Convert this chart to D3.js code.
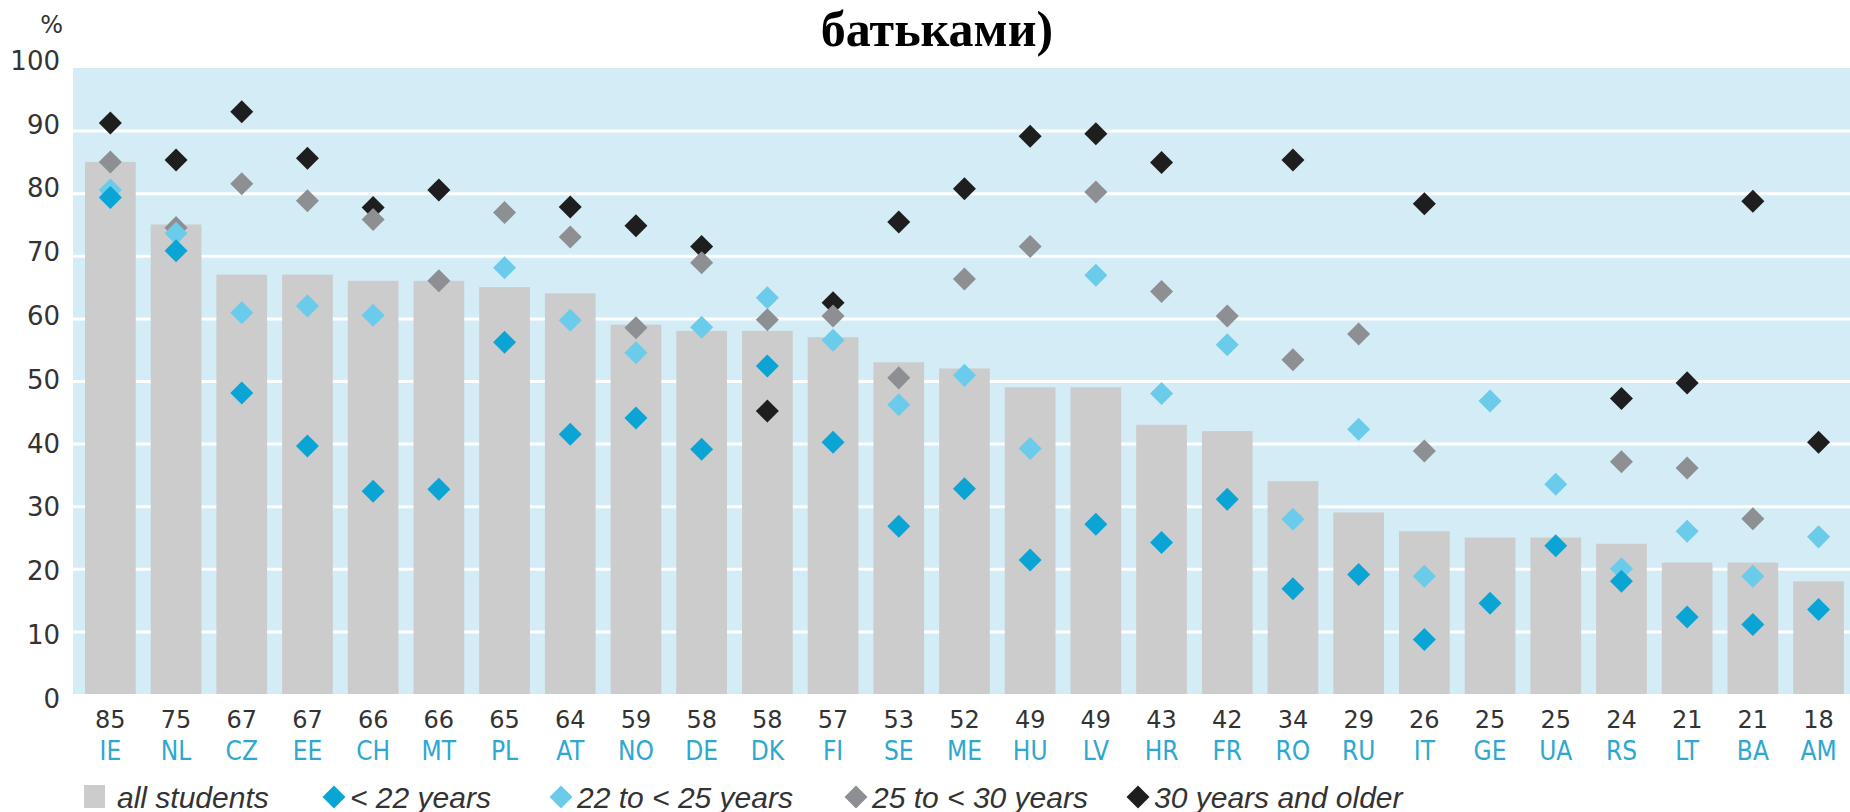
<!DOCTYPE html>
<html>
<head>
<meta charset="utf-8">
<script src="https://cdn.jsdelivr.net/npm/d3@7"></script>
<style>
  body { margin: 0; background: #ffffff; }
  .y-axis text { font-family: "DejaVu Sans", sans-serif; font-size: 26px; fill: #333333; }
  .num-axis text { font-family: "DejaVu Sans", sans-serif; font-size: 24px; fill: #333333; }
  .code-axis text { font-family: "DejaVu Sans Condensed", "DejaVu Sans", sans-serif; font-stretch: condensed; font-size: 26px; fill: #2ea8cf; }
  .legend text { font-family: "Liberation Sans", Arial, sans-serif; font-style: italic; font-size: 30px; fill: #333333; }
</style>
</head>
<body>
<div id="chart"></div>
<script>
// chart values
var countries = ["IE","NL","CZ","EE","CH","MT","PL","AT","NO","DE","DK","FI","SE","ME",
                 "HU","LV","HR","FR","RO","RU","IT","GE","UA","RS","LT","BA","AM"];
var allStudents = [85,75,67,67,66,66,65,64,59,58,58,57,53,52,49,49,43,42,34,29,26,25,25,24,21,21,18];
var under22 = [79.3,70.8,48.1,39.6,32.4,32.7,56.2,41.5,44.1,39.1,52.4,40.2,26.8,32.8,
               21.4,27.1,24.2,31.1,16.8,19.1,8.7,14.5,23.7,18.0,12.3,11.1,13.5];
var age22to25 = [80.5,73.6,60.9,62.0,60.5,null,68.1,59.7,54.5,58.6,63.3,56.5,46.2,50.9,
                 39.2,66.9,48.0,55.8,27.9,42.3,18.8,46.8,33.5,20.0,26.0,18.8,25.1];
var age25to30 = [85.0,74.5,81.5,78.8,75.8,66.0,76.9,73.0,58.5,68.9,59.8,60.4,50.5,66.3,
                 71.5,80.2,64.3,60.4,53.4,57.5,38.8,null,null,37.1,36.1,28.0,null];
var age30plus = [91.2,85.3,93.0,85.6,77.7,80.5,null,77.8,74.8,71.5,45.2,62.5,75.4,80.7,
                 89.1,89.5,84.9,null,85.3,null,78.3,null,null,47.2,49.7,78.7,40.2];
var yTicks = [0,10,20,30,40,50,60,70,80,90,100];
var seriesNames = ["< 22 years","22 to < 25 years","25 to < 30 years","30 years and older"];
var barName = "all students";
var titleText = "батьками)";
var unitText = "%";

var width = 1850, height = 812;
var plot = {left: 73, right: 1850, top: 68, bottom: 694};
var colors = ["#0aa5d5", "#6acbea", "#8e8f92", "#1e1e1e"];

var svg = d3.select("#chart").append("svg")
    .attr("width", width)
    .attr("height", height);

//scales
var xScale = d3.scaleBand().domain(countries)
    .range([plot.left + 4.5, plot.left + 4.5 + 65.7 * countries.length])
    .paddingInner(0.228).paddingOuter(0.114);
var yScale = d3.scaleLinear().domain([0, 100]).range([plot.bottom, plot.top]);
// tick labels spread a little wider than the gridlines in the original
var labelScale = d3.scaleLinear().domain([0, 100]).range([plot.bottom + 5, plot.top - 7]);

//light blue plot area
svg.append("rect")
    .attr("x", plot.left)
    .attr("y", yScale(100))
    .attr("width", plot.right - plot.left)
    .attr("height", yScale(0) - yScale(100))
    .style("fill", "#d4ecf6");

//white gridlines under the bars
svg.append("g")
    .attr("class", "grid")
    .attr("transform", "translate(" + plot.left + ",0)")
    .call(d3.axisLeft(yScale).tickValues(yTicks.slice(1, -1))
          .tickSize(-(plot.right - plot.left)).tickFormat(""))
    .call(g => g.select(".domain").remove())
    .selectAll("line")
      .attr("stroke", "#ffffff")
      .attr("stroke-width", 3);

//bars for all students
svg.append("g").selectAll("rect").data(countries)
  .enter().append("rect")
    .attr("class", "bar")
    .attr("x", d => xScale(d))
    .attr("y", (d, i) => yScale(allStudents[i]))
    .attr("width", xScale.bandwidth())
    .attr("height", (d, i) => yScale(0) - yScale(allStudents[i]))
    .style("fill", "#cccccd");

//diamonds, oldest group first so the younger ones sit on top
var diamond = d3.symbol().type(d3.symbolSquare).size(265);
var series = [under22, age22to25, age25to30, age30plus];
for (var s = series.length - 1; s >= 0; s--) {
  var pts = countries.map((c, i) => ({c: c, v: series[s][i]})).filter(d => d.v != null);
  svg.append("g").selectAll("path").data(pts)
    .enter().append("path")
      .attr("d", diamond)
      .attr("transform", d => "translate(" + (xScale(d.c) + xScale.bandwidth() / 2) + "," +
            yScale(d.v) + ") rotate(45)")
      .style("fill", colors[s]);
}

//y axis labels
svg.append("g")
    .attr("class", "y-axis")
    .attr("transform", "translate(60,0)")
    .call(d3.axisLeft(labelScale).tickValues(yTicks).tickSize(0).tickPadding(0))
    .call(g => g.select(".domain").remove());

svg.append("text")
    .attr("x", 63)
    .attr("y", 33)
    .attr("text-anchor", "end")
    .style("font-family", "DejaVu Sans, sans-serif")
    .style("font-size", "24px")
    .style("fill", "#333333")
    .text(unitText);

//x axis: values then country codes
svg.append("g")
    .attr("class", "num-axis")
    .attr("transform", "translate(0," + (plot.bottom + 17) + ")")
    .call(d3.axisBottom(xScale).tickSize(0).tickPadding(0)
          .tickFormat((d, i) => allStudents[i]))
    .call(g => g.select(".domain").remove());

svg.append("g")
    .attr("class", "code-axis")
    .attr("transform", "translate(0," + (plot.bottom + 48) + ")")
    .call(d3.axisBottom(xScale).tickSize(0).tickPadding(0))
    .call(g => g.select(".domain").remove());

//title fragment
svg.append("text")
    .attr("x", 937)
    .attr("y", 46)
    .attr("text-anchor", "middle")
    .style("font-family", "Liberation Serif, Times New Roman, serif")
    .style("font-weight", "bold")
    .style("font-size", "50px")
    .style("fill", "#000000")
    .text(titleText);

//legend
var legend = svg.append("g").attr("class", "legend");
var legendY = 797;
legend.append("rect")
    .attr("x", 84).attr("y", legendY - 12)
    .attr("width", 21).attr("height", 23)
    .style("fill", "#cccccd");
legend.append("text")
    .attr("x", 117).attr("y", legendY).attr("dy", "0.35em")
    .text(barName);

var legendX = [334, 561, 856, 1138];
seriesNames.forEach(function(name, i) {
  legend.append("path")
      .attr("d", diamond)
      .attr("transform", "translate(" + legendX[i] + "," + legendY + ") rotate(45)")
      .style("fill", colors[i]);
  legend.append("text")
      .attr("x", legendX[i] + 16).attr("y", legendY).attr("dy", "0.35em")
      .text(name);
});
</script>
</body>
</html>
